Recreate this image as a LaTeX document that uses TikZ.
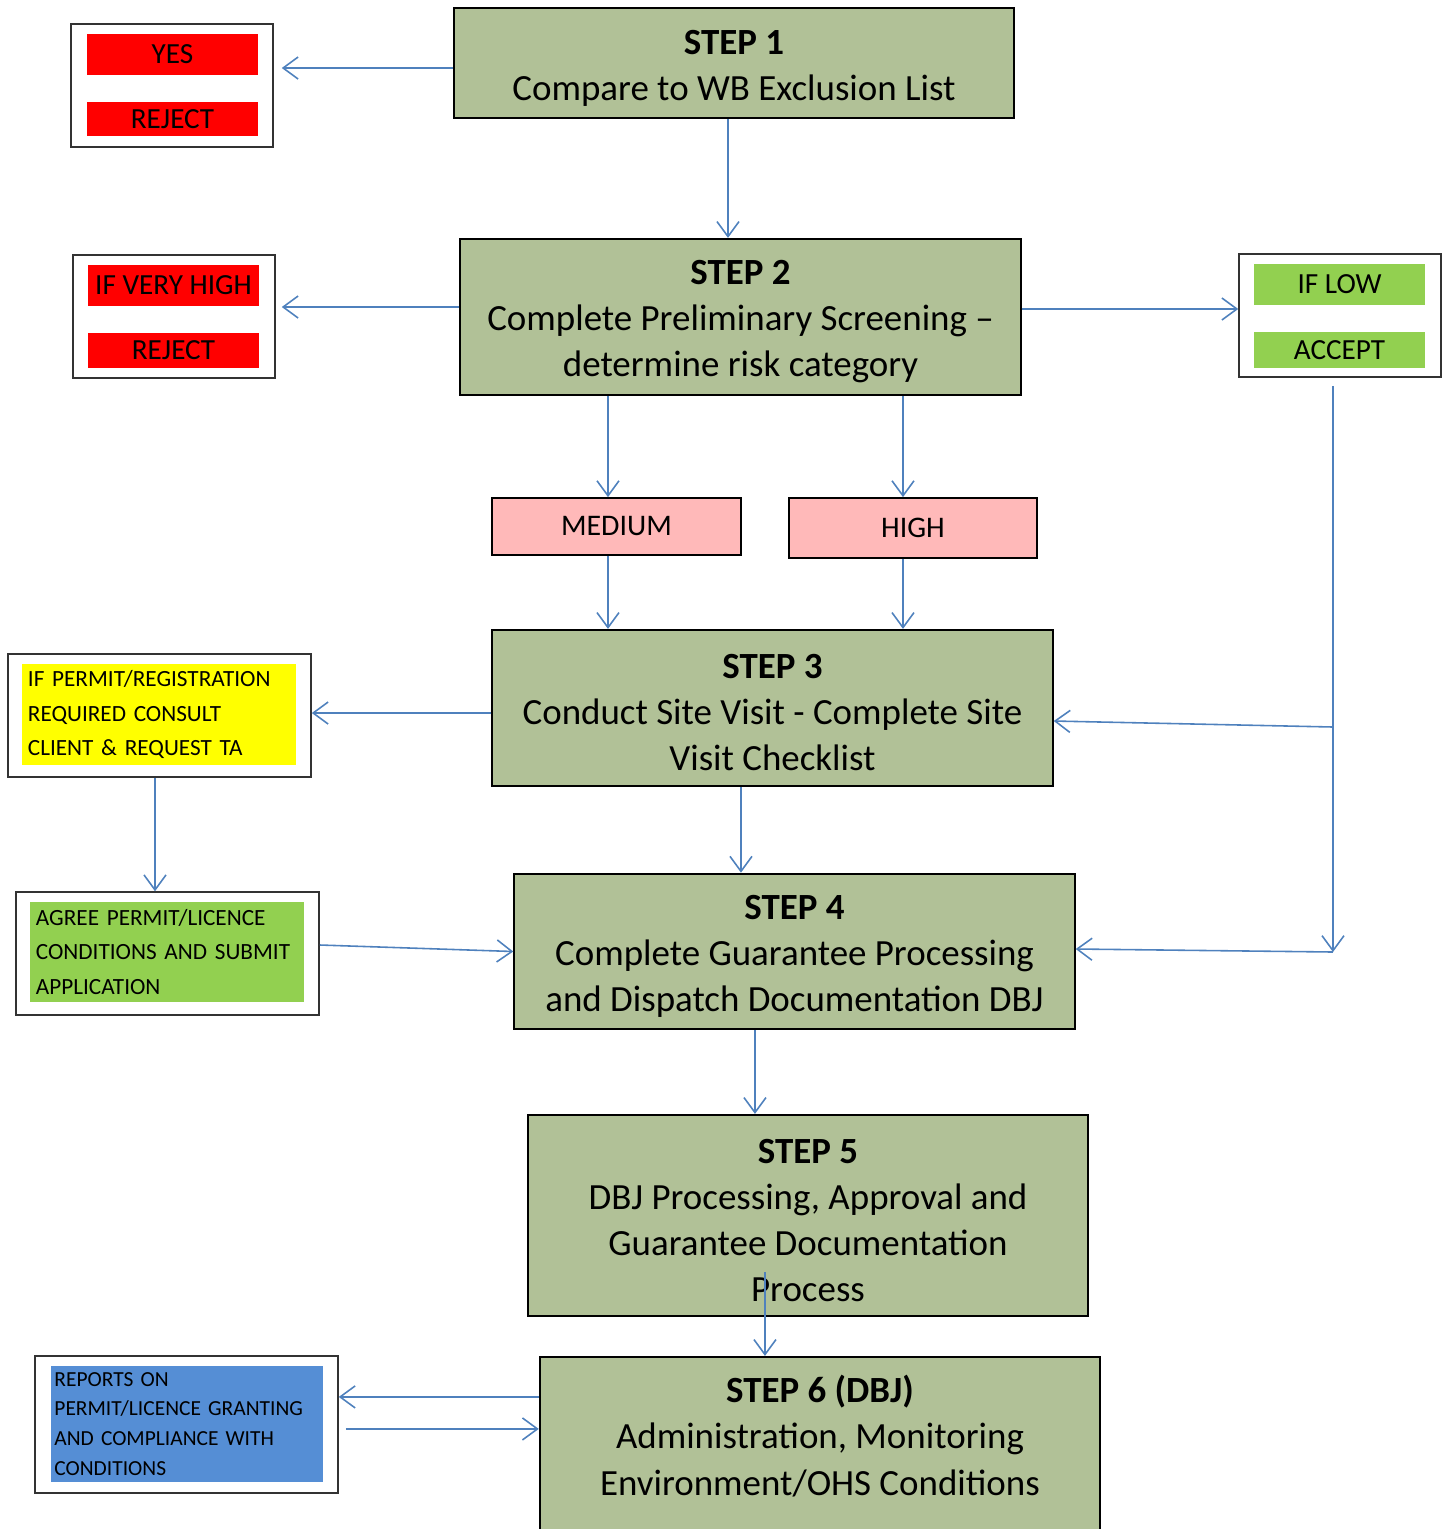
\documentclass[tikz,border=0pt]{standalone}
\usepackage{fontspec}
\setmainfont{Carlito}
\usepackage{tikz}
\usetikzlibrary{arrows.meta,positioning}
\definecolor{stepgreen}{RGB}{177,193,151}
\definecolor{barred}{RGB}{255,0,0}
\definecolor{bargreen}{RGB}{146,208,80}
\definecolor{baryellow}{RGB}{255,255,0}
\definecolor{barblue}{RGB}{85,142,213}
\definecolor{riskpink}{RGB}{255,185,185}
\definecolor{flowblue}{RGB}{79,129,189}
\newcommand{\steptitle}[1]{\rule{0pt}{3.4mm}\textbf{#1}}
\tikzset{
	stepbox/.style={draw=black, line width=0.6pt, fill=stepgreen, align=center,
		minimum width=56mm, font=\fontsize{10.5}{13.1}\selectfont},
	outerbox/.style={draw=black!80, line width=0.4pt, fill=white, minimum width=20.2mm, minimum height=12.3mm},
	bar/.style={minimum width=17.1mm, inner sep=0pt, font=\fontsize{8.3}{10}\selectfont},
	riskbox/.style={draw=black, line width=0.5pt, fill=riskpink, font=\fontsize{8.5}{10}\selectfont},
	notebox/.style={align=left, text width=26.2mm, inner xsep=0.6mm, inner ysep=0pt,
		font=\fontsize{6.6}{9.7}\selectfont},
	flow/.style={draw=flowblue, line width=0.45pt, -{Straight Barb[length=1.5mm,width=2.2mm]}}
}
\begin{document}
\begin{tikzpicture}[x=0.01cm,y=-0.01cm]
	\useasboundingbox (0,0) rectangle (1450,1529);
	% Steps
	\node[stepbox, minimum height=11mm] (step1) at (734,63) {\steptitle{STEP 1}\\ Compare to WB Exclusion List};
	\node[stepbox, minimum height=15.6mm] (step2) at (740.5,317) {\steptitle{STEP 2}\\ Complete Preliminary Screening --\\ determine risk category};
	\node[stepbox, minimum height=15.6mm] (step3) at (772.5,708) {\steptitle{STEP 3}\\ Conduct Site Visit - Complete Site\\ Visit Checklist};
	\node[stepbox, minimum height=15.5mm] (step4) at (794.5,951.5) {\steptitle{STEP 4}\\ Complete Guarantee Processing\\ and Dispatch Documentation DBJ};
	\node[stepbox, minimum height=20.1mm] (step5) at (808,1215.5) {\steptitle{STEP 5}\\ DBJ Processing, Approval and\\ Guarantee Documentation\\ Process};
	\node[stepbox, minimum height=19.6mm] (step6) at (820,1455) {\steptitle{STEP 6 (DBJ)}\\ Administration, Monitoring\\ Environment/OHS Conditions\\ \mbox{}};

	% Reject / accept
	\node[outerbox] (yesbox) at (172,85.5) {};
	\node[bar, fill=barred, minimum height=4.1mm] (yes) at (172.5,54.5) {YES};
	\node[bar, fill=barred, minimum height=3.4mm] (reject1) at (172.5,119) {REJECT};
	\node[outerbox] (vhbox) at (174,316.5) {};
	\node[bar, fill=barred, minimum height=4.1mm] (veryhigh) at (173.5,285.5) {IF VERY HIGH};
	\node[bar, fill=barred, minimum height=3.5mm] (reject2) at (173.5,350.5) {REJECT};
	\node[outerbox] (lowbox) at (1340,315.5) {};
	\node[bar, fill=bargreen, minimum height=4.1mm] (iflow) at (1339.5,284.5) {IF LOW};
	\node[bar, fill=bargreen, minimum height=3.6mm] (accept) at (1339.5,350) {ACCEPT};

	% Risk
	\node[riskbox, minimum width=24.9mm, minimum height=5.7mm] (medium) at (616.5,526.5) {MEDIUM};
	\node[riskbox, minimum width=24.8mm, minimum height=6mm] (high) at (913,528) {HIGH};

	% Permit notes
	\node[outerbox, minimum width=30.3mm] (permitbox) at (159.5,715.5) {};
	\node[notebox, fill=baryellow, minimum height=10.1mm] (permit) at (159,714.5)
		{IF PERMIT/REGISTRATION\\ REQUIRED CONSULT\\ CLIENT \& REQUEST TA};
	\node[outerbox, minimum width=30.3mm] (agreebox) at (167.5,953.5) {};
	\node[notebox, fill=bargreen, minimum height=10mm] (agree) at (167,952)
		{AGREE PERMIT/LICENCE\\ CONDITIONS AND SUBMIT\\ APPLICATION};
	\node[outerbox, minimum width=30.3mm, minimum height=13.7mm] (reportbox) at (186.5,1424.5) {};
	\node[notebox, text width=26.5mm, inner xsep=0.35mm, fill=barblue, minimum height=11.6mm, font=\fontsize{6.1}{8.5}\selectfont] (reports) at (187,1424)
		{REPORTS ON\\ PERMIT/LICENCE GRANTING\\ AND COMPLIANCE WITH\\ CONDITIONS};

	% Arrows
	\draw[flow, shorten >=0.8mm] ([yshift=-0.5mm]step1.west) -- ([yshift=-0.5mm]step1.west -| yesbox.east);
	\draw[flow] ([xshift=-0.6mm]step1.south) -- ([xshift=-0.6mm]step1.south |- step2.north);
	\draw[flow, shorten >=0.6mm] ([yshift=1mm]step2.west) -- ([yshift=1mm]step2.west -| vhbox.east);
	\draw[flow] ([yshift=0.8mm]step2.east) -- ([yshift=0.8mm]step2.east -| lowbox.west);
	\draw[flow] ([xshift=-0.85mm]medium.north |- step2.south) -- ([xshift=-0.85mm]medium.north);
	\draw[flow] ([xshift=-1mm]high.north |- step2.south) -- ([xshift=-1mm]high.north);
	\draw[flow] ([xshift=-0.85mm]medium.south) -- ([xshift=-0.85mm]medium.south |- step3.north);
	\draw[flow] ([xshift=-1mm]high.south) -- ([xshift=-1mm]high.south |- step3.north);
	\draw[flow] ([yshift=-0.5mm]step3.west) -- ([yshift=-0.5mm]step3.west -| permitbox.east);
	\draw[flow] ([xshift=-0.45mm]permitbox.south) -- ([xshift=-0.45mm]permitbox.south |- agreebox.north);
	\draw[flow] ([yshift=0.85mm]agreebox.east) -- (step4.west);
	\draw[flow] ([xshift=-3.15mm]step3.south) -- ([xshift=-3.15mm]step3.south |- step4.north);
	\draw[flow] ([xshift=-3.95mm]step4.south) -- ([xshift=-3.95mm]step4.south |- step5.north);
	\draw[flow] ([xshift=-4.3mm,yshift=4.5mm]step5.south) -- ([xshift=-4.3mm]step5.south |- step6.north);
	% Low risk path
	\coordinate (lowdrop) at ([xshift=-0.7mm,yshift=-0.8mm]lowbox.south);
	\coordinate (lowmid) at (lowdrop |- 0,727);
	\coordinate (lowend) at (lowdrop |- 0,952);
	\draw[flow] (lowdrop) -- (lowend);
	\draw[flow] (lowmid) -- ([yshift=-1.3mm]step3.east);
	\draw[flow] (lowend) -- ([yshift=0.25mm]step4.east);
	% Reports
	\coordinate (repout) at ([yshift=-4.1mm]step6.north west);
	\coordinate (repin) at ([yshift=-7.3mm]step6.north west);
	\draw[flow] (repout) -- (repout -| reportbox.east);
	\draw[flow] ([xshift=0.7mm]repin -| reportbox.east) -- (repin);
\end{tikzpicture}
\end{document}
